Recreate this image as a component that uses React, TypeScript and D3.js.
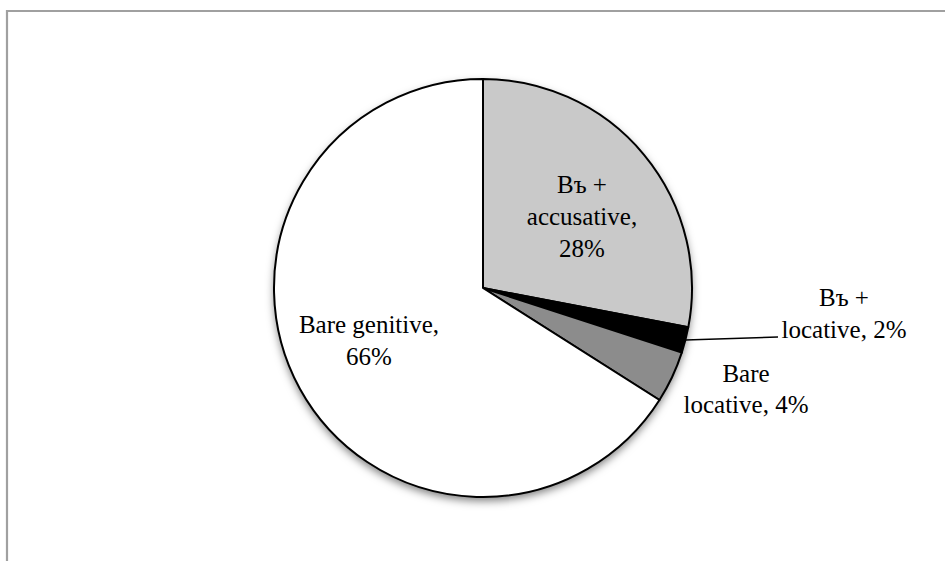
import React from "react";
import * as d3 from "d3";

const categories = ["Въ + accusative", "Въ + locative", "Bare locative", "Bare genitive"];
const values = [28, 2, 4, 66];
const colors = ["#c9c9c9", "#000000", "#8c8c8c", "#ffffff"];
const labelLines = [
  ["Въ +", "accusative,", "28%"],
  ["Въ +", "locative, 2%"],
  ["Bare", "locative, 4%"],
  ["Bare genitive,", "66%"],
];

const W = 945;
const H = 561;
const cx = 483;
const cy = 288;
const R = 209;

export default function App() {
  const pie = d3.pie<number>().value((d) => d).sort(null);
  const arcs = pie(values);
  const arc = d3.arc<d3.PieArcDatum<number>>().innerRadius(0).outerRadius(R);
  const font = "'Liberation Serif', 'Times New Roman', serif";
  const fs = 25;

  const mid = (a: d3.PieArcDatum<number>) => (a.startAngle + a.endAngle) / 2;
  const pt = (ang: number, r: number): [number, number] => [
    cx + r * Math.sin(ang),
    cy - r * Math.cos(ang),
  ];

  const a1 = arcs[1];
  const leadStart = pt(mid(a1), R);
  const leadEnd: [number, number] = [778, leadStart[1] - 3];

  const labelPos: { x: number; y: number }[] = [
    { x: 582, y: 193 },
    { x: 844, y: 306 },
    { x: 746, y: 382 },
    { x: 369, y: 333 },
  ];
  const lineH = [32, 32, 31, 32];

  return (
    <svg
      width={W}
      height={H}
      style={{ position: "fixed", left: 0, top: 0, background: "#fff" }}
    >
      <defs>
        <filter id="shadow" x="-20%" y="-20%" width="140%" height="140%">
          <feDropShadow dx="0" dy="4" stdDeviation="4" floodColor="#000" floodOpacity="0.5" />
        </filter>
      </defs>
      <rect x={0} y={0} width={W} height={H} fill="#fff" />
      <path d={`M7,${H + 5} L7,11 L${W + 5},11`} fill="none" stroke="#a0a0a0" strokeWidth={2.2} />
      <g transform={`translate(${cx},${cy})`}>
        <circle r={R} fill="#fff" filter="url(#shadow)" />
        {arcs.map((a, i) => (
          <path
            key={categories[i]}
            d={arc(a) || ""}
            fill={colors[i]}
            stroke="#000"
            strokeWidth={2}
            strokeLinejoin="round"
          />
        ))}
      </g>
      <line
        x1={leadStart[0]}
        y1={leadStart[1]}
        x2={leadEnd[0]}
        y2={leadEnd[1]}
        stroke="#000"
        strokeWidth={1.6}
      />
      {labelLines.map((lines, i) => (
        <text
          key={i}
          fontFamily={font}
          fontSize={fs}
          fill="#000"
          textAnchor="middle"
        >
          {lines.map((l, j) => (
            <tspan key={j} x={labelPos[i].x} y={labelPos[i].y + j * lineH[i]}>
              {l}
            </tspan>
          ))}
        </text>
      ))}
    </svg>
  );
}
